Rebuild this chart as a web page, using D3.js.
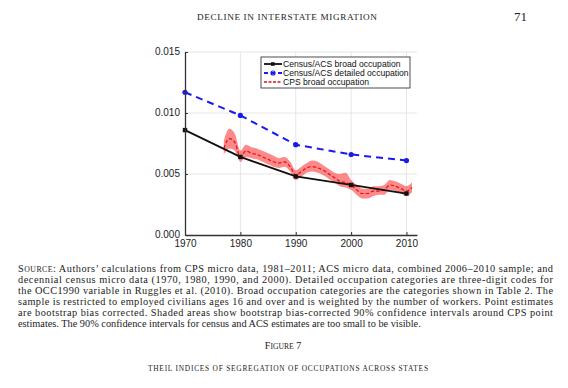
<!DOCTYPE html>
<html>
<head>
<meta charset="utf-8">
<script src="https://cdn.jsdelivr.net/npm/d3@7"></script>
<style>
  body { margin: 0; background: #fff; }
  svg { display: block; }
</style>
</head>
<body>
<script>
// decennial census / ACS values
var censusYears = [1970, 1980, 1990, 2000, 2010];
var broadValues = [0.0086, 0.0064, 0.0048, 0.0041, 0.0034];
var detailedValues = [0.0117, 0.0098, 0.0074, 0.0066, 0.0061];

// CPS yearly estimates with 90% bands
var cpsYears = [1977, 1978, 1979, 1980, 1981, 1982, 1983, 1984, 1985, 1986, 1987, 1988, 1989,
                1990, 1991, 1992, 1993, 1994, 1995, 1996, 1997, 1998, 1999, 2000, 2001, 2002,
                2003, 2004, 2005, 2006, 2007, 2008, 2009, 2010, 2011];
var cpsValues = [0.0071, 0.0079, 0.0076, 0.0064, 0.0069, 0.0067, 0.0066, 0.0064, 0.0062, 0.0060, 0.0059, 0.0060, 0.0056,
                 0.0049, 0.0052, 0.0055, 0.0056, 0.0055, 0.0053, 0.0050, 0.0047, 0.0044, 0.0043, 0.0041, 0.0037, 0.0034,
                 0.0034, 0.0036, 0.0036, 0.0037, 0.0041, 0.0040, 0.0038, 0.0036, 0.0039];
var cpsLower = [0.0066, 0.0071, 0.0069, 0.0060, 0.0064, 0.0063, 0.0062, 0.0060, 0.0058, 0.0056, 0.0055, 0.0056, 0.0052,
                0.0045, 0.0048, 0.0051, 0.0052, 0.0051, 0.0049, 0.0046, 0.0043, 0.0040, 0.0039, 0.0037, 0.0033, 0.0030,
                0.0030, 0.0032, 0.0033, 0.0033, 0.0037, 0.0036, 0.0034, 0.0032, 0.0035];
var cpsUpper = [0.0077, 0.0087, 0.0083, 0.0069, 0.0074, 0.0072, 0.0071, 0.0069, 0.0067, 0.0065, 0.0063, 0.0064, 0.0060,
                0.0053, 0.0056, 0.0059, 0.0061, 0.0060, 0.0057, 0.0054, 0.0051, 0.0050, 0.0051, 0.0045, 0.0041, 0.0038,
                0.0038, 0.0040, 0.0040, 0.0041, 0.0045, 0.0044, 0.0042, 0.0040, 0.0043];

var xTicks = [1970, 1980, 1990, 2000, 2010];
var yTicks = [0, 0.005, 0.010, 0.015];
var legendLabels = ["Census/ACS broad occupation", "Census/ACS detailed occupation", "CPS broad occupation"];

var captionLines = [
  "Authors\u2019 calculations from CPS micro data, 1981\u20132011; ACS micro data, combined 2006\u20132010 sample; and",
  "decennial census micro data (1970, 1980, 1990, and 2000). Detailed occupation categories are three-digit codes for",
  "the OCC1990 variable in Ruggles et al. (2010). Broad occupation categories are the categories shown in Table 2. The",
  "sample is restricted to employed civilians ages 16 and over and is weighted by the number of workers. Point estimates",
  "are bootstrap bias corrected. Shaded areas show bootstrap bias-corrected 90% confidence intervals around CPS point",
  "estimates. The 90% confidence intervals for census and ACS estimates are too small to be visible."
];

var svg = d3.select("body").append("svg")
            .attr("width", 568)
            .attr("height", 388);

svg.append("rect").attr("width", 568).attr("height", 388).attr("fill", "#fff");

var serif = "'Liberation Serif', 'DejaVu Serif', serif";
var sans = "'Liberation Sans', Arial, sans-serif";

// running head
svg.append("text").attr("x", 197).attr("y", 20)
   .attr("font-family", serif).attr("font-size", "9.2px")
   .attr("fill", "#222")
   .attr("textLength", 180).attr("lengthAdjust", "spacing")
   .text("DECLINE IN INTERSTATE MIGRATION");
svg.append("text").attr("x", 527).attr("y", 21)
   .attr("text-anchor", "end")
   .attr("font-family", serif).attr("font-size", "13px")
   .attr("fill", "#222")
   .text("71");

// plot area
var plotLeft = 185, plotRight = 417, plotTop = 52, plotBottom = 235;
var x = d3.scaleLinear().domain([1970, 2011.9]).range([plotLeft, plotRight]);
var y = d3.scaleLinear().domain([0, 0.015]).range([plotBottom, plotTop]);

var grid = svg.append("g");
grid.selectAll("line.v").data(xTicks.slice(1)).enter().append("line")
    .attr("x1", d => x(d)).attr("x2", d => x(d))
    .attr("y1", plotTop).attr("y2", plotBottom)
    .attr("stroke", "#e0e0e0").attr("stroke-width", 0.8);
grid.selectAll("line.h").data(yTicks.slice(1)).enter().append("line")
    .attr("x1", plotLeft).attr("x2", plotRight)
    .attr("y1", d => y(d)).attr("y2", d => y(d))
    .attr("stroke", "#e0e0e0").attr("stroke-width", 0.8);

// CPS band
var area = d3.area()
    .x((d, i) => x(cpsYears[i]))
    .y0((d, i) => y(cpsLower[i]))
    .y1((d, i) => y(cpsUpper[i]))
    .curve(d3.curveMonotoneX);
svg.append("path").datum(cpsValues)
   .attr("d", area)
   .attr("fill", "#ff3b3b").attr("fill-opacity", 0.6);

var line = d3.line()
    .x((d, i) => x(censusYears[i]))
    .y(d => y(d));

// detailed (blue dashed)
svg.append("path").datum(detailedValues)
   .attr("d", line)
   .attr("fill", "none").attr("stroke", "#1a1aeb")
   .attr("stroke-width", 2).attr("stroke-dasharray", "7,5");
svg.selectAll("circle.det").data(detailedValues).enter().append("circle")
   .attr("cx", (d, i) => x(censusYears[i])).attr("cy", d => y(d))
   .attr("r", 2.6).attr("fill", "#1a1aeb");

// CPS line (red dashed)
var cpsLine = d3.line()
    .x((d, i) => x(cpsYears[i]))
    .y(d => y(d))
    .curve(d3.curveMonotoneX);
svg.append("path").datum(cpsValues)
   .attr("d", cpsLine)
   .attr("fill", "none").attr("stroke", "#d8141b")
   .attr("stroke-width", 1.2).attr("stroke-dasharray", "3.5,2");

// broad (black)
svg.append("path").datum(broadValues)
   .attr("d", line)
   .attr("fill", "none").attr("stroke", "#111")
   .attr("stroke-width", 1.8);
svg.selectAll("rect.brd").data(broadValues).enter().append("rect")
   .attr("x", (d, i) => x(censusYears[i]) - 2.2).attr("y", d => y(d) - 2.2)
   .attr("width", 4.4).attr("height", 4.4).attr("fill", "#111");

// axes
var yAxis = d3.axisLeft(y).tickValues(yTicks).tickFormat(d3.format(".3f"))
              .tickSizeInner(-3).tickSizeOuter(0).tickPadding(5);
var xAxis = d3.axisBottom(x).tickValues(xTicks).tickFormat(d3.format("d"))
              .tickSizeInner(-3).tickSizeOuter(0).tickPadding(4.5);
var gy = svg.append("g").attr("transform", "translate(" + plotLeft + ",0)").call(yAxis);
var gx = svg.append("g").attr("transform", "translate(0," + plotBottom + ")").call(xAxis);
[gy, gx].forEach(function(g) {
  g.select(".domain").attr("stroke", "#333").attr("stroke-width", 1.3);
  g.selectAll(".tick line").attr("stroke", "#333");
  g.selectAll("text").attr("font-family", sans).attr("font-size", "10px").attr("fill", "#222");
});
gy.selectAll("text").attr("dy", "0.25em");

// legend
var lg = svg.append("g").attr("transform", "translate(261,57)");
lg.append("rect").attr("width", 149).attr("height", 31)
  .attr("fill", "#fff").attr("stroke", "#222").attr("stroke-width", 0.8);
var legendStyles = [
  {stroke: "#111", dash: null, w: 1.8, mark: "square"},
  {stroke: "#1a1aeb", dash: "4,3", w: 1.8, mark: "circle"},
  {stroke: "#d8141b", dash: "3,1.5", w: 1.3, mark: null}
];
legendLabels.forEach(function(lab, i) {
  var yy = 7 + i * 9;
  var s = legendStyles[i];
  lg.append("line").attr("x1", 3).attr("x2", 21).attr("y1", yy).attr("y2", yy)
    .attr("stroke", s.stroke).attr("stroke-width", s.w)
    .attr("stroke-dasharray", s.dash);
  if (s.mark === "square") {
    lg.append("rect").attr("x", 10).attr("y", yy - 1.8).attr("width", 3.6).attr("height", 3.6).attr("fill", s.stroke);
  } else if (s.mark === "circle") {
    lg.append("circle").attr("cx", 12).attr("cy", yy).attr("r", 2).attr("fill", "none")
      .attr("stroke", s.stroke).attr("stroke-width", 1.2);
  }
  lg.append("text").attr("x", 22).attr("y", yy + 3)
    .attr("font-family", sans).attr("font-size", "8.6px").attr("fill", "#111")
    .text(lab);
});

// caption
var cap = svg.append("g").attr("font-family", serif).attr("font-size", "10.3px").attr("fill", "#222");
captionLines.forEach(function(txt, i) {
  var t = cap.append("text").attr("x", 18).attr("y", 272 + i * 10.9);
  if (i < captionLines.length - 1) {
    t.attr("textLength", 535).attr("lengthAdjust", "spacing");
  }
  if (i === 0) {
    t.append("tspan").text("S");
    t.append("tspan").attr("font-size", "7.8px").text("OURCE");
    t.append("tspan").text(": " + txt);
  } else {
    t.text(txt);
  }
});

var fig = svg.append("text").attr("x", 283).attr("y", 349)
   .attr("text-anchor", "middle").attr("font-family", serif).attr("fill", "#222")
   .attr("font-size", "10px");
fig.append("tspan").text("F");
fig.append("tspan").attr("font-size", "7.6px").text("IGURE");
fig.append("tspan").text(" 7");

svg.append("text").attr("x", 148).attr("y", 371)
   .attr("font-family", serif).attr("fill", "#222")
   .attr("font-size", "7.4px")
   .attr("textLength", 280).attr("lengthAdjust", "spacing")
   .text("THEIL INDICES OF SEGREGATION OF OCCUPATIONS ACROSS STATES");
</script>
</body>
</html>
